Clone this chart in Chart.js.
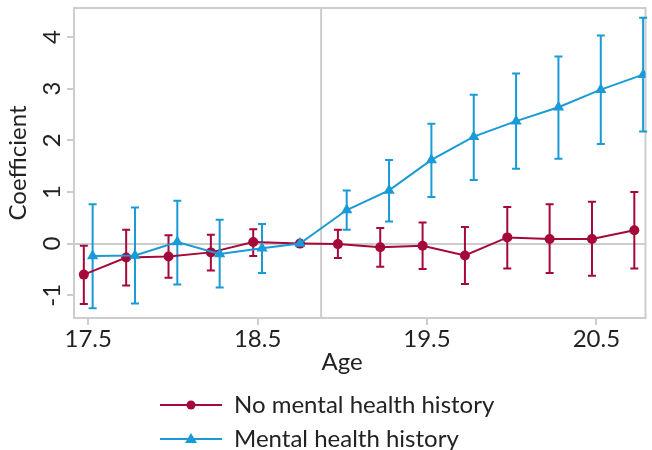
<!DOCTYPE html>
<html>
<head>
<meta charset="utf-8">
<script src="https://cdn.jsdelivr.net/npm/chart.js@4"></script>
<style>
    html, body { margin: 0; padding: 0; background: #fff; }
    #contenedor { width: 652px; height: 450px; }
</style>
</head>
<body>
<div id="contenedor"><canvas id="grafico" width="652" height="450"></canvas></div>
<script>
// datos
const edades = [17.5, 17.75, 18, 18.25, 18.5, 18.75, 19, 19.25, 19.5, 19.75, 20, 20.25, 20.5, 20.75]
const edadReferencia = 18.75
const edadCorte = 18.875
const desplazamiento = 0.026

const sinHistoria = [-0.60, -0.27, -0.25, -0.17, 0.03, 0, -0.01, -0.07, -0.04, -0.23, 0.12, 0.09, 0.09, 0.26]
const sinHistoriaBajo = [-1.17, -0.81, -0.66, -0.52, -0.24, 0, -0.28, -0.45, -0.49, -0.78, -0.48, -0.57, -0.62, -0.48]
const sinHistoriaAlto = [-0.04, 0.27, 0.16, 0.17, 0.28, 0, 0.27, 0.30, 0.41, 0.32, 0.71, 0.76, 0.81, 1.00]

const conHistoria = [-0.24, -0.23, 0.03, -0.20, -0.09, 0, 0.65, 1.03, 1.62, 2.07, 2.37, 2.64, 2.98, 3.27]
const conHistoriaBajo = [-1.25, -1.16, -0.79, -0.85, -0.57, 0, 0.27, 0.43, 0.90, 1.23, 1.45, 1.64, 1.93, 2.17]
const conHistoriaAlto = [0.76, 0.70, 0.83, 0.46, 0.38, 0, 1.03, 1.62, 2.32, 2.88, 3.29, 3.62, 4.03, 4.37]

const ticksX = [17.5, 18.5, 19.5, 20.5]
const ticksY = [-1, 0, 1, 2, 3, 4]

const etiquetas = ['No mental health history', 'Mental health history']

const ROJO = '#a4093a'
const AZUL = '#1a9ad6'
const GRIS = '#cdcdcd'
const TEXTO = '#222'
const FUENTE = 'Lato, "Open Sans", sans-serif'

const armarPuntos = (valores, signo) => valores.map((v, i) => ({
    x: edades[i] === edadReferencia ? edades[i] : edades[i] + signo * desplazamiento,
    y: v
}))

const datosRojos = armarPuntos(sinHistoria, -1)
const datosAzules = armarPuntos(conHistoria, 1)

// barras de error, marco y linea vertical
const pluginExtras = {
    id: 'extras',
    beforeDatasetsDraw(chart) {
        const { ctx, chartArea, scales } = chart
        ctx.save()
        ctx.strokeStyle = GRIS
        ctx.lineWidth = 2
        ctx.strokeRect(chartArea.left, chartArea.top, chartArea.right - chartArea.left, chartArea.bottom - chartArea.top)
        const xc = scales.x.getPixelForValue(edadCorte)
        ctx.beginPath()
        ctx.moveTo(xc, chartArea.top)
        ctx.lineTo(xc, chartArea.bottom)
        ctx.stroke()

        const series = [
            { puntos: datosRojos, bajo: sinHistoriaBajo, alto: sinHistoriaAlto, color: ROJO },
            { puntos: datosAzules, bajo: conHistoriaBajo, alto: conHistoriaAlto, color: AZUL }
        ]
        series.forEach(s => {
            ctx.strokeStyle = s.color
            ctx.lineWidth = 2
            s.puntos.forEach((p, i) => {
                if (s.bajo[i] === s.alto[i]) return
                const x = scales.x.getPixelForValue(p.x)
                const y1 = scales.y.getPixelForValue(s.bajo[i])
                const y2 = scales.y.getPixelForValue(s.alto[i])
                ctx.beginPath()
                ctx.moveTo(x, y1); ctx.lineTo(x, y2)
                ctx.moveTo(x - 4, y1); ctx.lineTo(x + 4, y1)
                ctx.moveTo(x - 4, y2); ctx.lineTo(x + 4, y2)
                ctx.stroke()
            })
        })
        ctx.restore()
    },
    afterDraw(chart) {
        const { ctx, scales } = chart
        ctx.save()
        ctx.fillStyle = TEXTO
        ctx.font = `24px ${FUENTE}`
        ctx.textAlign = 'center'
        ctx.textBaseline = 'middle'
        // etiquetas del eje y, giradas
        ticksY.forEach(v => {
            const y = scales.y.getPixelForValue(v)
            ctx.save()
            ctx.translate(52, y)
            ctx.rotate(-Math.PI / 2)
            ctx.fillText(String(v), 0, 0)
            ctx.restore()
        })
        // titulo eje x
        ctx.fillText('Age', 342, 362)

        // leyenda
        const filas = [
            { texto: etiquetas[0], color: ROJO, forma: 'circulo', y: 405 },
            { texto: etiquetas[1], color: AZUL, forma: 'triangulo', y: 439 }
        ]
        filas.forEach(f => {
            ctx.strokeStyle = f.color
            ctx.fillStyle = f.color
            ctx.lineWidth = 2
            ctx.beginPath()
            ctx.moveTo(160, f.y); ctx.lineTo(222, f.y)
            ctx.stroke()
            ctx.beginPath()
            if (f.forma === 'circulo') {
                ctx.arc(191, f.y, 4.5, 0, Math.PI * 2)
            } else {
                ctx.moveTo(191, f.y - 6); ctx.lineTo(197, f.y + 4); ctx.lineTo(185, f.y + 4); ctx.closePath()
            }
            ctx.fill()
            ctx.fillStyle = TEXTO
            ctx.textAlign = 'left'
            ctx.fillText(f.texto, 234, f.y)
        })
        ctx.restore()
    }
}

const ctx = document.getElementById('grafico')

const config = {
    type: 'line',
    data: {
        datasets: [
            {
                label: etiquetas[1],
                data: datosAzules,
                borderColor: AZUL,
                backgroundColor: AZUL,
                borderWidth: 2,
                pointStyle: 'triangle',
                pointRadius: 6.5,
                pointBorderWidth: 0,
                order: 0
            },
            {
                label: etiquetas[0],
                data: datosRojos,
                borderColor: ROJO,
                backgroundColor: ROJO,
                borderWidth: 2,
                pointStyle: 'circle',
                pointRadius: 5,
                pointBorderWidth: 0,
                order: 1
            }
        ]
    },
    options: {
        responsive: false,
        animation: false,
        layout: { padding: { top: 8, right: 1, left: 0, bottom: 0 } },
        plugins: {
            legend: { display: false },
            tooltip: { enabled: false }
        },
        scales: {
            x: {
                type: 'linear',
                min: 17.416,
                max: 20.79,
                afterBuildTicks: (eje) => { eje.ticks = ticksX.map(v => ({ value: v })) },
                afterFit: (eje) => {
                    eje.height = 132
                    eje.paddingLeft = 0
                    eje.paddingRight = 0
                },
                ticks: {
                    color: TEXTO,
                    font: { family: FUENTE, size: 24 },
                    padding: 0,
                    maxRotation: 0,
                    callback: (v) => v.toFixed(1)
                },
                grid: {
                    color: 'transparent',
                    tickColor: GRIS,
                    tickLength: 7,
                    lineWidth: 2
                },
                border: { display: false }
            },
            y: {
                type: 'linear',
                min: -1.44,
                max: 4.56,
                afterBuildTicks: (eje) => { eje.ticks = ticksY.map(v => ({ value: v })) },
                afterFit: (eje) => {
                    eje.width = 74
                    eje.paddingTop = 0
                    eje.paddingBottom = 0
                },
                ticks: { display: false },
                title: {
                    display: true,
                    text: 'Coefficient',
                    color: TEXTO,
                    font: { family: FUENTE, size: 24 },
                    padding: { top: 4, bottom: 0 }
                },
                grid: {
                    color: (c) => (c.tick && c.tick.value === 0 ? GRIS : 'transparent'),
                    tickColor: GRIS,
                    tickLength: 7,
                    lineWidth: 2
                },
                border: { display: false }
            }
        }
    },
    plugins: [pluginExtras]
}

const miGrafico = new Chart(ctx, config)
</script>
</body>
</html>
